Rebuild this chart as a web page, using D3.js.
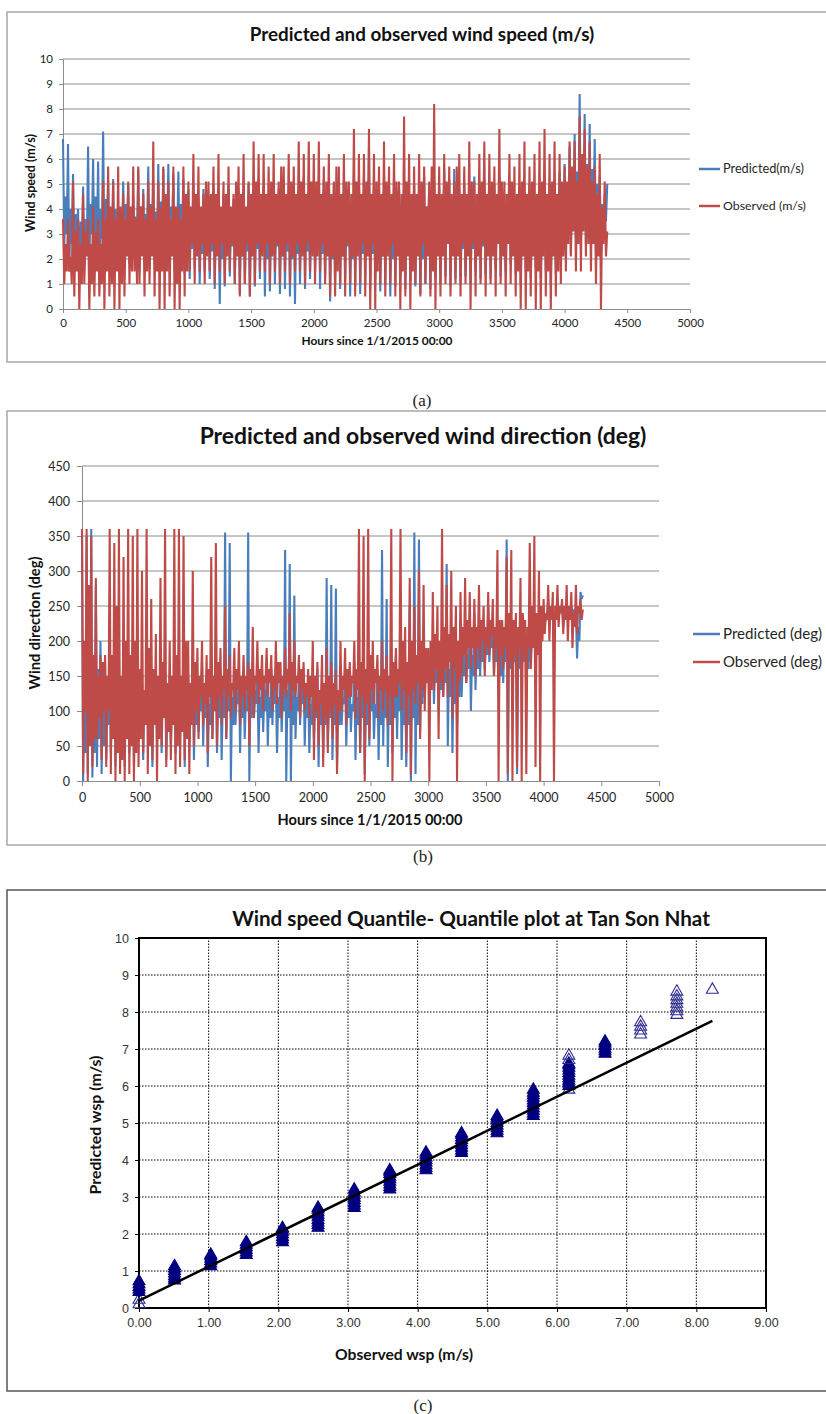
<!DOCTYPE html>
<html>
<head>
<meta charset="utf-8">
<script src="https://cdn.jsdelivr.net/npm/d3@7/dist/d3.min.js"></script>
<style>
body { margin: 0; background: #fff; }
</style>
</head>
<body>
<div id="chart-area"></div>
<script>

// ---- data ----
var hourStep = 10;   // hours between samples
var hourTicks = [0, 500, 1000, 1500, 2000, 2500, 3000, 3500, 4000, 4500, 5000];
var speedTicks = [0, 1, 2, 3, 4, 5, 6, 7, 8, 9, 10];
var dirTicks = [0, 50, 100, 150, 200, 250, 300, 350, 400, 450];
var speedNames = ["Predicted(m/s)", "Observed (m/s)"];
var dirNames = ["Predicted (deg)", "Observed (deg)"];

// one row = 200 hours
var speedPredicted = [
	6.8,2.5,4.5,3.0,6.6,1.5,4.0,2.6,5.4,2.0,3.8,3.0,4.0,1.0,3.5,2.2,4.9,1.5,3.6,2.4,
	6.5,2.0,4.2,3.0,6.0,1.8,4.5,2.6,5.9,1.5,4.0,2.8,7.1,2.0,4.4,3.0,5.1,1.5,4.0,2.5,
	5.2,2.0,4.0,2.8,4.1,1.5,3.8,2.6,5.1,2.2,4.2,3.0,5.0,1.8,3.9,2.6,4.5,2.0,3.7,2.8,
	5.6,1.5,4.1,2.6,4.8,2.0,3.8,3.0,5.7,1.6,4.2,2.7,5.0,1.8,3.9,2.6,5.8,1.5,4.3,2.8,
	5.6,1.6,4.4,2.8,5.8,2.0,4.1,3.0,5.4,1.5,4.0,2.6,5.5,2.0,4.2,3.0,5.2,1.4,3.9,2.7,
	4.8,1.2,3.8,2.4,5.0,1.6,4.0,2.6,4.4,1.0,3.6,2.2,4.8,1.5,3.9,2.5,4.5,1.2,3.7,2.3,
	5.0,0.8,3.9,2.2,4.3,0.2,3.6,2.0,4.6,0.9,3.8,2.4,5.0,1.3,4.0,2.5,4.4,1.0,3.7,2.2,
	4.8,0.6,3.9,2.1,4.5,1.0,3.6,2.3,5.0,0.5,4.0,2.2,4.6,0.9,3.8,2.4,5.2,1.2,4.1,2.5,
	4.9,0.5,3.8,2.0,4.6,0.7,3.9,2.2,5.0,1.0,4.0,2.5,4.8,0.6,3.7,2.1,5.2,0.8,4.1,2.3,
	4.7,0.5,3.8,2.0,5.0,0.2,4.0,2.2,4.8,1.0,3.9,2.4,5.3,0.8,4.2,2.3,4.6,1.2,3.8,2.5,
	5.0,1.5,4.0,2.6,4.7,0.8,3.9,2.2,5.2,1.2,4.1,2.5,4.8,0.3,3.8,2.0,5.0,1.0,4.0,2.4,
	4.6,0.8,3.7,2.1,5.1,1.2,4.0,2.5,4.7,0.5,3.8,2.0,5.4,0.9,4.2,2.3,4.9,0.6,3.9,2.2,
	5.2,1.0,4.1,2.4,6.4,0.8,4.3,2.2,5.0,1.2,4.0,2.5,4.7,0.7,3.8,2.1,5.3,1.0,4.1,2.4,
	4.9,0.5,3.9,2.0,5.2,0.9,4.0,2.3,4.8,1.2,3.9,2.5,5.0,0.8,4.0,2.2,4.6,1.1,3.7,2.4,
	5.0,0.9,4.0,2.3,4.7,0.6,3.8,2.0,5.3,1.0,4.1,2.5,4.8,0.8,3.9,2.2,5.1,1.2,4.0,2.5,
	4.9,1.0,3.9,2.4,5.6,1.3,4.3,2.6,5.2,0.9,4.0,2.3,5.6,1.2,4.2,2.5,4.8,1.0,3.9,2.4,
	5.0,1.3,4.0,2.6,4.7,1.0,3.8,2.4,5.3,1.5,4.1,2.7,4.9,1.2,3.9,2.5,5.2,1.4,4.0,2.6,
	4.8,1.2,3.9,2.5,5.0,1.6,4.0,2.7,5.3,1.3,4.2,2.6,4.6,1.5,3.8,2.6,5.1,1.8,4.0,2.8,
	4.5,1.4,3.7,2.5,4.9,1.0,3.9,2.3,4.6,1.5,3.8,2.6,5.0,1.2,4.0,2.4,4.4,1.6,3.6,2.6,
	4.8,1.2,3.9,2.4,4.5,1.5,3.7,2.6,5.0,1.0,4.0,2.3,4.6,1.4,3.8,2.6,5.5,2.0,4.3,3.0,
	5.8,2.6,4.8,3.4,6.5,2.2,5.0,3.5,7.0,2.8,5.5,3.6,8.6,2.4,6.0,3.8,7.8,2.6,5.8,3.5,
	7.4,2.5,5.6,3.4,6.8,2.2,5.0,3.2,5.3,2.0,4.2,3.0,4.6,3.5,5.0
];

var speedObserved = [
	3.6,1.0,2.6,1.5,3.6,1.5,2.1,1.0,5.1,0.5,3.1,1.5,3.6,0,2.6,1.0,4.6,1.0,3.1,2.1,
	3.6,0,2.6,1.0,4.1,0.5,3.1,1.5,3.6,0.5,2.6,1.0,5.1,0,3.6,1.5,5.7,0.5,4.1,1.0,
	5.1,0,3.6,1.5,5.7,0,4.1,1.0,4.6,0.5,3.6,2.1,5.1,1.0,4.1,1.5,5.7,1.5,3.6,1.0,
	5.7,1.0,4.1,2.1,4.6,0.5,3.6,1.5,5.1,1.0,4.1,2.1,6.7,0.5,3.6,1.5,5.1,0,4.1,1.5,
	5.7,0,4.6,1.5,5.1,0.5,3.6,2.1,5.7,0,4.1,1.0,4.1,0,3.6,1.5,5.7,0.5,4.6,1.5,
	5.1,1.5,4.1,2.6,6.2,1.0,4.6,2.1,5.7,1.5,4.1,2.6,4.6,1.0,5.1,2.1,5.1,1.5,4.6,2.6,
	5.7,1.0,4.6,2.1,6.2,1.5,4.1,2.6,5.1,1.0,4.6,2.1,5.7,1.5,4.1,2.6,4.6,1.0,5.1,2.1,
	5.7,0.5,4.6,2.1,6.2,1.0,4.1,2.6,5.1,0.5,4.6,2.1,6.7,1.0,5.1,2.6,6.2,1.5,4.6,2.1,
	6.2,1.5,4.6,2.6,5.7,1.0,5.1,2.1,6.2,1.5,4.6,2.6,5.1,1.0,5.7,2.1,5.7,1.5,4.6,2.6,
	6.2,1.0,5.1,2.1,5.7,1.5,4.6,2.6,6.7,1.5,5.1,2.1,6.2,1.0,4.6,2.6,6.7,1.5,5.1,2.1,
	6.2,1.0,5.1,2.1,6.7,1.5,4.6,2.6,5.7,1.0,5.1,2.1,6.2,0.5,4.6,2.1,5.1,0.5,5.7,1.5,
	5.7,1.0,4.6,2.1,6.2,0.5,5.1,2.6,5.1,1.0,4.6,2.1,7.2,0.5,5.1,2.1,6.2,1.0,4.6,2.6,
	6.2,0.5,5.1,2.1,7.2,0,4.6,2.6,6.2,0,5.1,1.5,5.7,1.0,4.6,2.1,6.7,0.5,5.1,2.1,
	5.7,1.0,4.6,2.6,6.2,0.5,5.1,2.1,5.1,0,4.6,1.5,7.7,0.5,5.1,2.1,6.2,0,4.6,1.5,
	5.7,1.0,4.6,2.1,6.2,0.5,5.1,2.6,5.7,1.0,4.1,2.1,5.1,0.5,5.7,1.5,8.2,0,4.6,2.1,
	5.7,0.5,4.6,2.1,6.2,1.0,5.1,2.6,5.7,0.5,4.6,2.1,5.1,1.0,5.7,2.1,6.2,0.5,4.6,2.6,
	5.7,1.0,4.6,2.1,6.7,0,5.1,2.6,5.1,0.5,4.6,2.1,6.2,1.0,5.1,2.6,6.7,0.5,4.6,2.1,
	6.2,1.0,5.1,2.1,5.7,0.5,4.6,2.6,7.2,1.0,5.1,2.1,5.1,0.5,4.6,2.6,6.2,1.0,5.1,2.1,
	5.7,0.5,4.6,1.5,6.2,0,5.1,2.1,6.7,0,4.6,1.5,5.7,0.5,5.1,2.1,6.2,0,4.6,1.5,
	6.7,0,5.1,2.1,7.2,0.5,4.6,1.5,6.2,0,5.1,2.1,6.7,0.5,4.6,1.5,6.2,1.0,5.1,2.1,
	5.7,1.5,5.1,2.6,6.7,2.1,5.7,3.1,6.7,1.5,5.1,2.6,7.7,1.5,6.2,3.1,7.2,2.1,5.7,2.6,
	6.7,1.5,5.1,2.6,5.7,1.0,4.6,2.1,6.2,0,4.1,2.6,5.1,2.1,3.1
];

var dirPredicted = [
	360,0,180,40,350,10,200,60,360,5,150,40,280,20,160,60,200,10,150,50,
	170,30,130,80,190,40,140,90,160,20,120,70,180,30,140,80,170,20,130,70,
	150,40,120,90,160,20,130,80,170,60,130,100,150,30,120,80,140,80,110,100,
	160,20,120,80,150,60,120,100,170,40,130,90,160,30,120,80,150,50,120,90,
	170,40,130,90,160,70,130,110,180,20,130,80,150,50,120,90,160,30,120,80,
	150,70,120,100,170,50,130,90,140,20,110,80,160,60,130,100,150,40,120,90,
	160,30,120,90,355,60,130,100,340,0,120,80,150,80,120,110,160,40,130,90,
	150,60,120,100,355,0,130,90,170,90,130,110,150,40,120,90,160,70,130,100,
	150,50,120,90,160,80,130,110,140,40,120,90,150,70,120,100,330,0,130,90,
	310,0,130,80,265,60,120,100,150,80,130,110,160,50,120,90,140,40,110,80,
	150,60,120,90,160,20,120,80,140,40,110,80,290,50,120,90,280,30,120,80,
	275,20,120,80,150,80,120,110,160,50,120,90,140,70,110,100,170,30,120,80,
	160,40,120,90,150,10,120,80,170,50,130,100,140,60,110,90,160,30,120,80,
	330,50,150,90,260,20,130,80,170,40,130,90,180,60,140,100,170,30,130,80,
	160,20,130,80,250,0,140,90,355,10,150,80,345,70,160,110,200,120,160,140,
	180,130,160,150,200,110,170,140,170,100,150,130,190,120,160,140,310,50,160,120,
	200,40,160,110,180,80,160,120,230,120,180,150,200,140,180,160,220,100,180,150,
	240,130,200,160,220,150,200,170,230,160,210,180,250,170,210,190,220,150,200,170,
	200,120,180,150,230,140,200,170,345,0,200,160,220,140,190,170,200,10,190,160,
	230,150,200,170,220,130,200,160,240,170,210,190,230,150,200,180,220,200,210,220,
	250,220,240,235,260,230,245,240,240,225,235,240,260,230,245,240,250,220,240,235,
	255,230,245,240,250,240,245,235,240,175,220,200,270,260,265
];

var dirObserved = [
	360,10,200,100,360,0,280,50,350,20,180,60,290,60,150,90,180,30,170,100,
	180,20,150,100,360,10,180,60,340,0,250,40,360,10,150,30,320,0,200,60,
	360,10,180,50,350,0,200,40,360,20,160,60,300,40,130,80,360,10,190,50,
	260,30,160,80,210,0,150,60,290,50,170,90,360,20,140,70,200,30,150,80,
	360,10,180,50,360,20,150,70,350,30,200,60,200,10,140,80,300,50,170,100,
	190,60,150,120,200,80,140,110,180,40,160,120,320,60,150,100,340,50,170,120,
	190,80,150,130,250,60,160,120,180,90,140,130,190,100,160,130,200,80,150,120,
	180,100,150,130,170,50,160,120,220,90,150,140,200,110,160,130,180,100,150,140,
	190,120,160,140,180,100,150,130,200,110,170,140,170,90,150,130,190,120,160,140,
	240,100,170,130,200,120,150,140,180,90,160,130,170,100,140,120,160,90,150,120,
	200,30,150,100,170,50,130,110,180,20,140,90,190,40,150,100,170,60,140,110,
	160,10,130,100,200,100,150,130,190,80,160,120,170,120,150,140,200,90,160,130,
	360,40,170,120,350,0,160,110,360,60,180,130,200,110,160,140,180,90,150,130,
	200,100,160,130,180,80,150,120,360,0,170,120,190,120,160,140,360,100,200,130,
	220,40,170,120,290,10,200,130,250,110,180,140,300,60,200,130,280,100,190,140,
	190,0,200,130,270,130,210,160,250,60,200,140,360,120,220,160,280,120,210,170,
	300,90,220,160,250,0,200,140,270,150,220,180,290,140,230,190,270,160,220,190,
	260,150,220,190,280,170,230,200,250,150,220,190,270,180,230,210,260,150,220,190,
	330,0,230,180,230,160,220,190,320,10,240,170,330,0,230,180,240,20,220,190,
	290,0,240,180,230,10,220,190,340,160,250,190,350,20,240,180,300,0,250,200,
	260,210,240,230,280,200,250,230,270,0,250,230,280,220,250,240,260,210,250,230,
	280,200,250,230,270,190,240,220,280,210,250,240,260,230,245
];

// quantile-quantile plot: observed levels and the predicted quantiles at each level
var qqXTicks = [0, 1, 2, 3, 4, 5, 6, 7, 8, 9];
var qqYTicks = [0, 1, 2, 3, 4, 5, 6, 7, 8, 9, 10];
var qqObserved = [0, 0.51, 1.03, 1.54, 2.06, 2.57, 3.09, 3.60, 4.12, 4.63, 5.14, 5.66, 6.17, 6.69, 7.20, 7.72, 8.23];
var qqPredicted = [
	[0.1, 0.22, 0.43, 0.5, 0.57, 0.64, 0.72],
	[0.74, 0.8, 0.86, 0.93, 1.0, 1.07, 1.13],
	[1.13, 1.2, 1.27, 1.34, 1.4, 1.44],
	[1.43, 1.5, 1.57, 1.64, 1.71, 1.78],
	[1.78, 1.85, 1.92, 1.99, 2.06, 2.12, 2.16],
	[2.17, 2.24, 2.31, 2.38, 2.45, 2.52, 2.59, 2.66, 2.71],
	[2.7, 2.77, 2.84, 2.91, 2.98, 3.05, 3.12, 3.2],
	[3.2, 3.27, 3.34, 3.41, 3.48, 3.55, 3.62, 3.68, 3.72],
	[3.72, 3.79, 3.86, 3.93, 4.0, 4.07, 4.14, 4.2],
	[4.19, 4.26, 4.33, 4.4, 4.47, 4.54, 4.61, 4.68, 4.72],
	[4.72, 4.79, 4.86, 4.93, 5.0, 5.07, 5.14, 5.19],
	[5.19, 5.26, 5.33, 5.4, 5.47, 5.54, 5.61, 5.68, 5.75, 5.82, 5.9],
	[5.9, 6.0, 6.07, 6.14, 6.21, 6.28, 6.35, 6.42, 6.49, 6.56, 6.6, 6.7, 6.82],
	[6.87, 6.94, 7.01, 7.08, 7.15, 7.2],
	[7.39, 7.5, 7.6, 7.72],
	[7.92, 8.02, 8.12, 8.22, 8.32, 8.42, 8.55],
	[8.6]
];
var fitObserved = [0, 8.23];
var fitPredicted = [0.2, 7.76];

// ---- drawing ----
var predColor = "#4a7ebb";
var obsColor = "#be4b48";
var calibri = "Lato, 'Open Sans', sans-serif";

var svg = d3.select("#chart-area")
	.append("svg")
		.attr("width", 826)
		.attr("height", 1414);

// squeeze/stretch font size so the text spans a given width
function fit(t, w) {
	var len = t.node().getComputedTextLength();
	var fs = parseFloat(t.attr("font-size"));
	t.attr("font-size", (fs * w / len).toFixed(2));
	return t;
}

function label(x, y, txt, size, w, bold, rot) {
	var t = svg.append("text")
		.attr("x", rot ? 0 : x)
		.attr("y", rot ? 0 : y)
		.attr("dy", "0.35em")
		.attr("text-anchor", "middle")
		.attr("font-family", calibri)
		.attr("font-weight", bold ? "bold" : "normal")
		.attr("font-size", size)
		.attr("fill", "#111")
		.text(txt);
	if (rot) t.attr("transform", "translate(" + x + "," + y + ") rotate(-90)");
	if (w) fit(t, w);
	return t;
}

// panel frames
svg.append("rect").attr("x", 7).attr("y", 12).attr("width", 830).attr("height", 350)
	.attr("fill", "none").attr("stroke", "#a8a8a8").attr("stroke-width", 1.5);
svg.append("rect").attr("x", 7).attr("y", 411).attr("width", 830).attr("height", 434)
	.attr("fill", "none").attr("stroke", "#a8a8a8").attr("stroke-width", 1.5);
svg.append("rect").attr("x", 7).attr("y", 890).attr("width", 830).attr("height", 501)
	.attr("fill", "none").attr("stroke", "#555").attr("stroke-width", 1.5);

function timePanel(p) {
	var x = d3.scaleLinear().domain([0, 5000]).range([p.left, p.right]);
	var y = d3.scaleLinear().domain([0, p.yTicks[p.yTicks.length - 1]]).range([p.bottom, p.top]);
	var g = svg.append("g");

	g.selectAll("line.grid").data(p.yTicks.slice(1)).enter()
		.append("line")
		.attr("class", "grid")
		.attr("x1", p.left).attr("x2", p.right)
		.attr("y1", (d) => y(d)).attr("y2", (d) => y(d))
		.attr("stroke", "#8c8c8c");

	var xAxisGroup = g.append("g")
		.attr("transform", "translate(0, " + p.bottom + ")")
		.call(d3.axisBottom(x).tickValues(hourTicks).tickSize(p.tick).tickSizeOuter(0)
			.tickPadding(p.pad).tickFormat(d3.format("d")));
	var yAxisGroup = g.append("g")
		.attr("transform", "translate(" + p.left + ", 0)")
		.call(d3.axisLeft(y).tickValues(p.yTicks).tickSize(p.tick).tickSizeOuter(0)
			.tickPadding(p.pad).tickFormat(d3.format("d")));
	[xAxisGroup, yAxisGroup].forEach((a) => {
		a.selectAll("path, line").attr("stroke", "#8c8c8c");
		a.selectAll("text")
			.attr("font-family", calibri)
			.attr("font-size", p.tickFont)
			.attr("fill", "#262626");
	});

	var line = d3.line()
		.x((d, i) => x(i * hourStep))
		.y((d) => y(d));
	g.append("path").datum(p.predicted).attr("d", line)
		.attr("fill", "none").attr("stroke", predColor).attr("stroke-width", 2.1);
	g.append("path").datum(p.observed).attr("d", line)
		.attr("fill", "none").attr("stroke", obsColor).attr("stroke-width", 2.1);

	// legend
	[predColor, obsColor].forEach((c, i) => {
		g.append("line")
			.attr("x1", p.legX).attr("x2", 720)
			.attr("y1", p.legY[i]).attr("y2", p.legY[i])
			.attr("stroke", c).attr("stroke-width", 2.5);
		var t = g.append("text")
			.attr("x", 723).attr("y", p.legY[i])
			.attr("dy", "0.35em")
			.attr("font-family", calibri)
			.attr("font-size", p.tickFont)
			.attr("fill", "#262626")
			.text(p.names[i]);
		fit(t, p.legW[i]);
	});

	label(p.titleX, p.titleY, p.title, 18, p.titleW, true);
	label(p.xLabX, p.xLabY, "Hours since 1/1/2015 00:00", 13, p.xLabW, true);
	label(p.yLabX, p.yLabY, p.yLab, 13, p.yLabW, true, true);
}

timePanel({
	left: 63, right: 690, top: 59, bottom: 309,
	yTicks: speedTicks, tick: 4, pad: 6, tickFont: 11.5,
	predicted: speedPredicted, observed: speedObserved,
	names: speedNames, legX: 699, legY: [169, 206], legW: [81, 83],
	title: "Predicted and observed wind speed (m/s)", titleX: 422, titleY: 34, titleW: 345,
	xLabX: 377, xLabY: 341, xLabW: 151,
	yLab: "Wind speed (m/s)", yLabX: 31, yLabY: 183, yLabW: 98
});

timePanel({
	left: 82, right: 659, top: 466, bottom: 781,
	yTicks: dirTicks, tick: 5, pad: 7, tickFont: 12.5,
	predicted: dirPredicted, observed: dirObserved,
	names: dirNames, legX: 693, legY: [634, 662], legW: [99, 99],
	title: "Predicted and observed wind direction (deg)", titleX: 423, titleY: 436, titleW: 447,
	xLabX: 370, xLabY: 820, xLabW: 185,
	yLab: "Wind direction (deg)", yLabX: 35, yLabY: 623, yLabW: 133
});

// ---- quantile-quantile panel ----
var qx = d3.scaleLinear().domain([0, 9]).range([139, 766]);
var qy = d3.scaleLinear().domain([0, 10]).range([1308, 938]);
var q = svg.append("g");

q.selectAll("line.vgrid").data(qqXTicks.slice(1, -1)).enter()
	.append("line")
	.attr("x1", (d) => qx(d)).attr("x2", (d) => qx(d))
	.attr("y1", qy(0)).attr("y2", qy(10))
	.attr("stroke", "#000").attr("stroke-width", 1).attr("stroke-dasharray", "1.5,1.5");
q.selectAll("line.hgrid").data(qqYTicks.slice(1, -1)).enter()
	.append("line")
	.attr("x1", qx(0)).attr("x2", qx(9))
	.attr("y1", (d) => qy(d)).attr("y2", (d) => qy(d))
	.attr("stroke", "#000").attr("stroke-width", 1).attr("stroke-dasharray", "1.5,1.5");

var qxAxis = q.append("g")
	.attr("transform", "translate(0, " + qy(0) + ")")
	.call(d3.axisBottom(qx).tickValues(qqXTicks).tickSize(4).tickSizeOuter(0).tickPadding(6)
		.tickFormat(d3.format(".2f")));
var qyAxis = q.append("g")
	.attr("transform", "translate(" + qx(0) + ", 0)")
	.call(d3.axisLeft(qy).tickValues(qqYTicks).tickSize(4).tickSizeOuter(0).tickPadding(6));
[qxAxis, qyAxis].forEach((a) => {
	a.selectAll("path, line").attr("stroke", "#000");
	a.selectAll("text")
		.attr("font-family", "'Liberation Sans', Arial, sans-serif")
		.attr("font-size", 12.5)
		.attr("fill", "#333");
});

q.append("rect")
	.attr("x", qx(0)).attr("y", qy(10))
	.attr("width", qx(9) - qx(0)).attr("height", qy(0) - qy(10))
	.attr("fill", "none").attr("stroke", "#000").attr("stroke-width", 2);

// markers: a triangle sitting right on top of a neighbour reads as solid
var tri = d3.symbol().type(d3.symbolTriangle).size(62);
var qqPoints = [];
qqObserved.forEach((o, i) => {
	var vals = qqPredicted[i];
	vals.forEach((v, j) => {
		var close = (j > 0 && v - vals[j - 1] < 0.085) || (j < vals.length - 1 && vals[j + 1] - v < 0.085);
		qqPoints.push({obs: o, pred: v, dense: close});
	});
});
q.selectAll("path.pt").data(qqPoints).enter()
	.append("path")
	.attr("class", "pt")
	.attr("d", tri)
	.attr("transform", (d) => "translate(" + qx(d.obs) + "," + qy(d.pred) + ")")
	.attr("fill", (d) => d.dense ? "#000080" : "none")
	.attr("stroke", (d) => d.dense ? "#000080" : "#2e2e8f")
	.attr("stroke-width", 1.1);

q.append("path")
	.datum(fitObserved.map((o, i) => [o, fitPredicted[i]]))
	.attr("d", d3.line().x((d) => qx(d[0])).y((d) => qy(d[1])))
	.attr("fill", "none").attr("stroke", "#000").attr("stroke-width", 2.5);

label(471, 919, "Wind speed Quantile- Quantile plot at Tan Son Nhat", 20, 478, true);
label(404, 1355, "Observed wsp (m/s)", 15, 138, true);
label(95, 1125, "Predicted wsp (m/s)", 15, 139, true, true);

// captions
[["(a)", 422, 400], ["(b)", 423, 856], ["(c)", 423, 1405]].forEach((c) => {
	svg.append("text")
		.attr("x", c[1]).attr("y", c[2]).attr("dy", "0.35em")
		.attr("text-anchor", "middle")
		.attr("font-family", "'Liberation Serif', 'Times New Roman', serif")
		.attr("font-size", 17)
		.attr("fill", "#222")
		.text(c[0]);
});

</script>
</body>
</html>
